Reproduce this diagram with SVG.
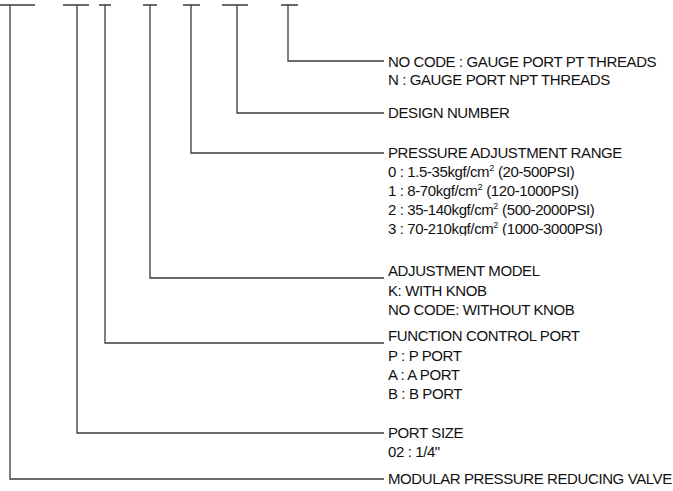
<svg xmlns="http://www.w3.org/2000/svg" width="673" height="491" viewBox="0 0 673 491">
<style>
.c{fill:none;stroke:#3a3a3a;stroke-width:1.3}
.t{font-family:"Liberation Sans",Arial,sans-serif;font-size:15px;letter-spacing:-0.4px;fill:#111}
.s{font-size:9px;letter-spacing:0}
</style>
<defs>
<clipPath id="clip3"><rect x="380" y="200" width="293" height="35.5"/></clipPath>
</defs>
<rect width="673" height="491" fill="#fff"/>
<g id="connectors">
<path class="c" d="M0 5H35M10 5V479H384"/>
<path class="c" d="M63 5H89M77 5V433H384"/>
<path class="c" d="M99 5H111M105 5V343H384"/>
<path class="c" d="M143 5H157M150 5V278H384"/>
<path class="c" d="M183 5H200M191 5V153H384"/>
<path class="c" d="M222 5H248M237 5V113H384"/>
<path class="c" d="M281 5H298M288 5V61H384"/>
</g>
<g id="gauge-port">
<text class="t" x="388" y="67">NO CODE : GAUGE PORT PT THREADS</text>
<text class="t" x="388" y="85">N : GAUGE PORT NPT THREADS</text>
</g>
<g id="design-number">
<text class="t" x="388" y="118">DESIGN NUMBER</text>
</g>
<g id="pressure-range">
<text class="t" x="388" y="158">PRESSURE ADJUSTMENT RANGE</text>
<text class="t" x="388" y="177">0 : 1.5-35kgf/cm<tspan class="s" dy="-6">2</tspan><tspan dy="6"> (20-500PSI)</tspan></text>
<text class="t" x="388" y="196">1 : 8-70kgf/cm<tspan class="s" dy="-6">2</tspan><tspan dy="6"> (120-1000PSI)</tspan></text>
<text class="t" x="388" y="215">2 : 35-140kgf/cm<tspan class="s" dy="-6">2</tspan><tspan dy="6"> (500-2000PSI)</tspan></text>
<text class="t" x="388" y="234" clip-path="url(#clip3)">3 : 70-210kgf/cm<tspan class="s" dy="-6">2</tspan><tspan dy="6"> (1000-3000PSI)</tspan></text>
</g>
<g id="adjustment-model">
<text class="t" x="388" y="276">ADJUSTMENT MODEL</text>
<text class="t" x="388" y="296">K: WITH KNOB</text>
<text class="t" x="388" y="315">NO CODE: WITHOUT KNOB</text>
</g>
<g id="function-port">
<text class="t" x="388" y="341">FUNCTION CONTROL PORT</text>
<text class="t" x="388" y="361">P : P PORT</text>
<text class="t" x="388" y="380">A : A PORT</text>
<text class="t" x="388" y="399">B : B PORT</text>
</g>
<g id="port-size">
<text class="t" x="388" y="438">PORT SIZE</text>
<text class="t" x="388" y="457">02 : 1/4"</text>
</g>
<g id="valve">
<text class="t" x="388" y="484">MODULAR PRESSURE REDUCING VALVE</text>
</g>
</svg>
